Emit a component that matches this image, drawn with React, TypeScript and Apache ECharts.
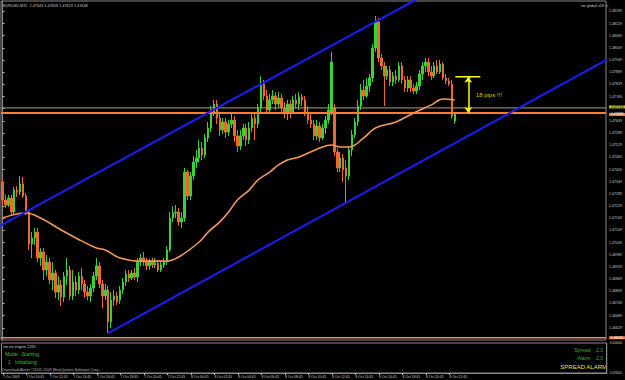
import React, { useEffect, useRef } from 'react';
import * as echarts from 'echarts';

// time axis labels, one every 8 bars (M15)
const timeLabels = ['7 Oct 2009', '7 Oct 10:45', '7 Oct 12:45', '7 Oct 14:45', '7 Oct 16:45', '7 Oct 18:45', '7 Oct 20:45', '7 Oct 22:45', '8 Oct 00:45', '8 Oct 02:45', '8 Oct 04:45', '8 Oct 06:45', '8 Oct 08:45', '8 Oct 10:45', '8 Oct 12:45', '8 Oct 14:45', '8 Oct 16:45', '8 Oct 18:45', '8 Oct 20:45', '8 Oct 22:45'];
const BARS_PER_LABEL = 8;
const TOTAL_SLOTS = 206;

// EURUSD M15 candles: [open, close, low, high]
const candles: number[][] = [
  [1.47348, 1.47259, 1.47239, 1.47368], [1.47259, 1.47234, 1.47220, 1.47284], [1.47234, 1.47269, 1.47225, 1.47284],
  [1.47269, 1.47200, 1.47180, 1.47284], [1.47200, 1.47308, 1.47190, 1.47323], [1.47308, 1.47298, 1.47274, 1.47328],
  [1.47298, 1.47338, 1.47284, 1.47377], [1.47338, 1.47279, 1.47269, 1.47372], [1.47279, 1.47200, 1.47185, 1.47293],
  [1.47200, 1.47042, 1.47013, 1.47210], [1.47042, 1.47072, 1.46973, 1.47101], [1.47072, 1.47101, 1.47037, 1.47121],
  [1.47101, 1.46973, 1.46953, 1.47121], [1.46973, 1.47003, 1.46934, 1.47022], [1.47003, 1.46914, 1.46865, 1.47022],
  [1.46914, 1.46953, 1.46884, 1.46988], [1.46953, 1.46865, 1.46845, 1.46973], [1.46865, 1.46899, 1.46815, 1.46953],
  [1.46899, 1.46805, 1.46776, 1.46914], [1.46805, 1.46840, 1.46766, 1.46884], [1.46840, 1.46781, 1.46737, 1.46865],
  [1.46781, 1.46884, 1.46756, 1.46904], [1.46884, 1.46914, 1.46840, 1.46973], [1.46914, 1.46786, 1.46766, 1.46934],
  [1.46786, 1.46855, 1.46766, 1.46914], [1.46855, 1.46815, 1.46786, 1.46884], [1.46815, 1.46884, 1.46796, 1.46904],
  [1.46884, 1.46845, 1.46815, 1.46924], [1.46845, 1.46805, 1.46776, 1.46865], [1.46805, 1.46786, 1.46766, 1.46835],
  [1.46786, 1.46825, 1.46756, 1.46845], [1.46825, 1.46884, 1.46805, 1.46904], [1.46884, 1.46934, 1.46865, 1.46973],
  [1.46934, 1.46845, 1.46825, 1.46953], [1.46845, 1.46786, 1.46727, 1.46865], [1.46786, 1.46815, 1.46766, 1.46845],
  [1.46815, 1.46658, 1.46603, 1.46835], [1.46658, 1.46766, 1.46628, 1.46805], [1.46766, 1.46786, 1.46737, 1.46815],
  [1.46786, 1.46756, 1.46741, 1.46805], [1.46766, 1.46815, 1.46747, 1.46835], [1.46815, 1.46855, 1.46796, 1.46874],
  [1.46855, 1.46894, 1.46835, 1.46914], [1.46894, 1.46874, 1.46855, 1.46914], [1.46874, 1.46899, 1.46865, 1.46914],
  [1.46899, 1.46879, 1.46865, 1.46924], [1.46879, 1.46953, 1.46855, 1.46973], [1.46953, 1.46973, 1.46934, 1.46993],
  [1.46973, 1.46953, 1.46934, 1.47003], [1.46953, 1.46934, 1.46914, 1.46973], [1.46934, 1.46953, 1.46914, 1.46968],
  [1.46953, 1.46939, 1.46924, 1.46973], [1.46939, 1.46948, 1.46924, 1.46973], [1.46948, 1.46914, 1.46904, 1.46963],
  [1.46914, 1.46939, 1.46904, 1.46953], [1.46939, 1.46953, 1.46924, 1.46973], [1.46953, 1.47013, 1.46939, 1.47032],
  [1.47013, 1.47170, 1.47003, 1.47200], [1.47170, 1.47195, 1.47151, 1.47229], [1.47195, 1.47200, 1.47170, 1.47234],
  [1.47200, 1.47151, 1.47131, 1.47220], [1.47151, 1.47170, 1.47121, 1.47200], [1.47170, 1.47397, 1.47151, 1.47417],
  [1.47397, 1.47279, 1.47259, 1.47407], [1.47279, 1.47377, 1.47259, 1.47397], [1.47377, 1.47446, 1.47358, 1.47476],
  [1.47446, 1.47466, 1.47417, 1.47506], [1.47466, 1.47515, 1.47446, 1.47555], [1.47515, 1.47481, 1.47456, 1.47545],
  [1.47481, 1.47565, 1.47466, 1.47584], [1.47565, 1.47614, 1.47545, 1.47644], [1.47614, 1.47693, 1.47594, 1.47722],
  [1.47693, 1.47732, 1.47673, 1.47752], [1.47732, 1.47663, 1.47634, 1.47752], [1.47663, 1.47604, 1.47575, 1.47683],
  [1.47604, 1.47644, 1.47584, 1.47663], [1.47644, 1.47594, 1.47565, 1.47663], [1.47594, 1.47634, 1.47575, 1.47653],
  [1.47634, 1.47653, 1.47614, 1.47683], [1.47653, 1.47575, 1.47545, 1.47673], [1.47575, 1.47525, 1.47496, 1.47604],
  [1.47525, 1.47575, 1.47506, 1.47604], [1.47575, 1.47614, 1.47555, 1.47634], [1.47614, 1.47555, 1.47525, 1.47634],
  [1.47555, 1.47614, 1.47535, 1.47644], [1.47614, 1.47663, 1.47594, 1.47683], [1.47663, 1.47634, 1.47555, 1.47693],
  [1.47634, 1.47713, 1.47614, 1.47732], [1.47713, 1.47831, 1.47693, 1.47870], [1.47831, 1.47772, 1.47752, 1.47851],
  [1.47772, 1.47703, 1.47683, 1.47801], [1.47703, 1.47752, 1.47683, 1.47782], [1.47752, 1.47772, 1.47732, 1.47801],
  [1.47772, 1.47732, 1.47703, 1.47791], [1.47732, 1.47762, 1.47713, 1.47791], [1.47762, 1.47713, 1.47693, 1.47782],
  [1.47713, 1.47683, 1.47663, 1.47742], [1.47683, 1.47732, 1.47653, 1.47752], [1.47732, 1.47693, 1.47663, 1.47752],
  [1.47693, 1.47752, 1.47683, 1.47772], [1.47752, 1.47732, 1.47713, 1.47782], [1.47732, 1.47767, 1.47703, 1.47791],
  [1.47767, 1.47752, 1.47722, 1.47782], [1.47752, 1.47693, 1.47673, 1.47772], [1.47693, 1.47653, 1.47634, 1.47722],
  [1.47653, 1.47634, 1.47614, 1.47683], [1.47634, 1.47575, 1.47555, 1.47653], [1.47575, 1.47624, 1.47555, 1.47653],
  [1.47624, 1.47565, 1.47545, 1.47644], [1.47565, 1.47614, 1.47555, 1.47634], [1.47614, 1.47653, 1.47584, 1.47673],
  [1.47653, 1.47703, 1.47634, 1.47732], [1.47688, 1.47939, 1.47678, 1.47989], [1.47713, 1.47496, 1.47476, 1.47732],
  [1.47496, 1.47417, 1.47397, 1.47515], [1.47417, 1.47466, 1.47397, 1.47496], [1.47466, 1.47407, 1.47348, 1.47486],
  [1.47417, 1.47377, 1.47249, 1.47456], [1.47377, 1.47506, 1.47358, 1.47525], [1.47506, 1.47580, 1.47476, 1.47604],
  [1.47580, 1.47644, 1.47565, 1.47663], [1.47644, 1.47722, 1.47624, 1.47752], [1.47722, 1.47801, 1.47703, 1.47831],
  [1.47801, 1.47772, 1.47752, 1.47851], [1.47772, 1.47821, 1.47762, 1.47861], [1.47821, 1.47861, 1.47791, 1.47880],
  [1.47861, 1.48008, 1.47841, 1.48028], [1.48008, 1.48137, 1.47989, 1.48166], [1.48137, 1.47959, 1.47939, 1.48156],
  [1.47959, 1.47920, 1.47900, 1.47979], [1.47920, 1.47870, 1.47722, 1.47939], [1.47870, 1.47900, 1.47851, 1.47920],
  [1.47900, 1.47841, 1.47821, 1.47920], [1.47841, 1.47870, 1.47821, 1.47890], [1.47870, 1.47851, 1.47831, 1.47900],
  [1.47851, 1.47920, 1.47841, 1.47939], [1.47920, 1.47851, 1.47831, 1.47939], [1.47851, 1.47811, 1.47791, 1.47870],
  [1.47811, 1.47851, 1.47791, 1.47870], [1.47851, 1.47811, 1.47791, 1.47870], [1.47811, 1.47796, 1.47782, 1.47831],
  [1.47796, 1.47821, 1.47782, 1.47841], [1.47821, 1.47880, 1.47801, 1.47900], [1.47880, 1.47920, 1.47851, 1.47939],
  [1.47920, 1.47939, 1.47890, 1.47959], [1.47939, 1.47890, 1.47870, 1.47959], [1.47890, 1.47870, 1.47851, 1.47920],
  [1.47870, 1.47920, 1.47861, 1.47939], [1.47920, 1.47890, 1.47880, 1.47949], [1.47890, 1.47929, 1.47880, 1.47949],
  [1.47929, 1.47861, 1.47851, 1.47939], [1.47861, 1.47846, 1.47831, 1.47880], [1.47846, 1.47831, 1.47821, 1.47861],
  [1.47831, 1.47673, 1.47658, 1.47851], [1.47648, 1.47683, 1.47634, 1.47693],
];

// moving average, read at [bar, price]
const maPoints: number[][] = [
  [0, 1.47170], [8, 1.47195], [13, 1.47170], [20, 1.47111], [25, 1.47072], [32, 1.47022], [35, 1.47013],
  [40, 1.46973], [47, 1.46958], [56, 1.46958], [60, 1.46978], [67, 1.47052], [70, 1.47101], [74, 1.47151],
  [77, 1.47200], [80, 1.47259], [84, 1.47308], [87, 1.47358], [91, 1.47397], [94, 1.47432], [97, 1.47456],
  [101, 1.47471], [108, 1.47515], [112, 1.47530], [115, 1.47520], [118, 1.47520], [123, 1.47565],
  [127, 1.47614], [134, 1.47644], [140, 1.47688], [146, 1.47728], [150, 1.47757], [154, 1.47752],
];

// channel trend lines [bar, price]
const upperChannel: number[][] = [[-1, 1.4713], [206, 1.4876]];
const lowerChannel: number[][] = [[36, 1.46603], [206, 1.47952]];

// horizontal levels
const levelLine = 1.47688;
const bidLine = 1.47713;
const bottomLine = 1.4658;

// "18 pips" annotation
const pipsBar: number[][] = [[154.2, 1.47866], [162.7, 1.47866]];
const pipsArrow: number[][] = [[158.6, 1.47866], [158.6, 1.47688]];
const pipsText: number[] = [161.0, 1.47777];
const pipsLabel = '18 pips !!!';

const yMin = 1.46569;
const yMax = 1.4824;
const yStep = 0.0006;

const FONT = 'Liberation Sans, Arial, sans-serif';

export default function App() {
  const ref = useRef<HTMLDivElement>(null);
  useEffect(() => {
    if (!ref.current) return;
    const chart = echarts.init(ref.current, undefined, { renderer: 'svg' });
    const categories: string[] = [];
    for (let i = 0; i < TOTAL_SLOTS; i++) {
      if (i < candles.length && i % BARS_PER_LABEL === 0) categories.push(timeLabels[i / BARS_PER_LABEL] || '');
      else categories.push('');
    }
    const isLabelIdx = (i: number) => i < candles.length && i % BARS_PER_LABEL === 0;
    const levels = [levelLine, bidLine, bottomLine];
    const xLo = -0.5;
    const xHi = TOTAL_SLOTS - 0.5;
    const gray = '#8a8a8a';
    const txt = (text: string, x: number, y: number, size: number, color: string, align = 'left', family = FONT) => ({
      type: 'text', x, y, silent: true,
      style: { text, fill: color, fontSize: size, fontFamily: family, textAlign: align, textVerticalAlign: 'middle' },
    });
    const hLine = (level: number, color: string, width: number, bg: string, fg: string, dy: number) => ({
      type: 'line', xAxisIndex: 1, yAxisIndex: 0, data: [[xLo, level], [xHi, level]], showSymbol: false, z: 3,
      silent: true, clip: false,
      lineStyle: { color, width },
      endLabel: {
        show: true, distance: 3, offset: [0, dy], formatter: () => level.toFixed(5),
        fontSize: 3.4, color: fg, backgroundColor: bg, padding: [0, 2], fontFamily: FONT,
      },
    });
    chart.setOption({
      animation: false,
      backgroundColor: '#000',
      grid: [
        { left: 1, top: 1, width: 610, height: 339, show: true, borderColor: gray, borderWidth: 1, backgroundColor: '#000' },
        { left: 1, top: 343, width: 610, height: 30, show: true, borderColor: gray, borderWidth: 1, backgroundColor: '#000' },
      ],
      xAxis: [
        { type: 'category', gridIndex: 0, data: categories, boundaryGap: true, show: false },
        { type: 'value', gridIndex: 0, min: xLo, max: xHi, show: false },
        {
          type: 'category', gridIndex: 1, data: categories, boundaryGap: true, position: 'bottom',
          axisLine: { show: true, lineStyle: { color: gray } },
          axisTick: { show: true, alignWithLabel: true, length: 2, interval: (i: number) => isLabelIdx(i), lineStyle: { color: '#bbb' } },
          axisLabel: { show: true, interval: (i: number) => isLabelIdx(i), align: 'left', margin: 2, fontSize: 3.4, color: '#c8c8c8', fontFamily: FONT },
          splitLine: { show: false },
        },
      ],
      yAxis: [
        {
          type: 'value', gridIndex: 0, position: 'right', min: yMin, max: yMax, interval: yStep,
          axisLine: { show: true, lineStyle: { color: gray } },
          axisTick: { show: true, length: 2, lineStyle: { color: '#bbb' } },
          axisLabel: {
            show: true, margin: 3, fontSize: 3.6, color: '#c8c8c8', fontFamily: FONT, showMinLabel: false, showMaxLabel: false,
            formatter: (v: number) => (levels.some((l) => Math.abs(l - v) < 0.00025) ? '' : v.toFixed(5)),
          },
          splitLine: { show: false },
        },
        {
          type: 'value', gridIndex: 1, position: 'right', min: 0, max: 1, interval: 1,
          axisLine: { show: true, lineStyle: { color: gray } },
          axisTick: { show: false },
          axisLabel: { show: true, margin: 3, fontSize: 3.4, color: '#c8c8c8', fontFamily: FONT, formatter: () => '0.00000' },
          splitLine: { show: false },
        },
      ],
      series: [
        {
          type: 'candlestick', xAxisIndex: 0, yAxisIndex: 0, data: candles, barWidth: 2,
          itemStyle: { color: '#35d435', color0: '#f0682a', borderColor: '#35d435', borderColor0: '#f0682a', borderWidth: 1 },
        },
        hLine(bidLine, '#b39a78', 1, '#b8b83a', '#000', -1),
        hLine(levelLine, '#ff7b2e', 2, '#ff7b2e', '#fff', 1.5),
        hLine(bottomLine, '#f08a68', 1.5, '#f07a40', '#fff', 0),
        {
          type: 'line', xAxisIndex: 1, yAxisIndex: 0, data: maPoints, smooth: 0.4, showSymbol: false, z: 3,
          lineStyle: { color: '#f0985c', width: 1.6 },
        },
        {
          type: 'line', xAxisIndex: 1, yAxisIndex: 0, data: upperChannel, showSymbol: false, z: 4, clip: true,
          lineStyle: { color: '#1c1cff', width: 2 },
        },
        {
          type: 'line', xAxisIndex: 1, yAxisIndex: 0, data: lowerChannel, showSymbol: false, z: 4, clip: true,
          lineStyle: { color: '#1c1cff', width: 2 },
        },
        {
          type: 'line', xAxisIndex: 1, yAxisIndex: 0, data: pipsBar, showSymbol: false, z: 5,
          lineStyle: { color: '#ffff00', width: 1.5 },
          markLine: {
            silent: true, symbol: ['arrow', 'arrow'], symbolSize: 6, animation: false,
            lineStyle: { color: '#ffff00', width: 1.5, type: 'solid' }, label: { show: false },
            data: [[{ coord: pipsArrow[0] }, { coord: pipsArrow[1] }]],
          },
        },
        {
          type: 'scatter', xAxisIndex: 1, yAxisIndex: 0, data: [pipsText], symbolSize: 1, z: 5,
          itemStyle: { color: 'rgba(0,0,0,0)' },
          label: { show: true, position: 'right', distance: 0, formatter: pipsLabel, color: '#ffff00', fontSize: 6, fontFamily: FONT },
        },
      ],
      graphic: [
        txt('EURUSD,M15  1.47643 1.47658 1.47623 1.47648', 3, 6, 3.8, '#c8c8c8'),
        txt('sm global v18 \u263A', 609, 6, 3.8, '#c8c8c8', 'right'),
        txt('sm sw engine 2310', 3, 347, 3.8, '#c8c8c8'),
        txt('Mode:  Starting', 5, 354, 5, '#3fbf3f'),
        txt('1   Initialising', 8, 362, 5, '#3fbf3f'),
        txt('Download Alarm \u00A92001-2009 MetaQuotes Software Corp.', 2, 370, 3.8, '#b0b0b0'),
        txt('Spread    2.3', 603, 350, 5, '#3fa83f', 'right'),
        txt('Alarm    2.0', 603, 358, 5, '#3fa83f', 'right'),
        txt('SPREAD ALARM', 607, 367, 6, '#e6e63c', 'right'),
      ],
    });
    return () => chart.dispose();
  }, []);
  return <div ref={ref} style={{ position: 'fixed', left: 0, top: 0, width: 625, height: 380, background: '#000' }} />;
}
